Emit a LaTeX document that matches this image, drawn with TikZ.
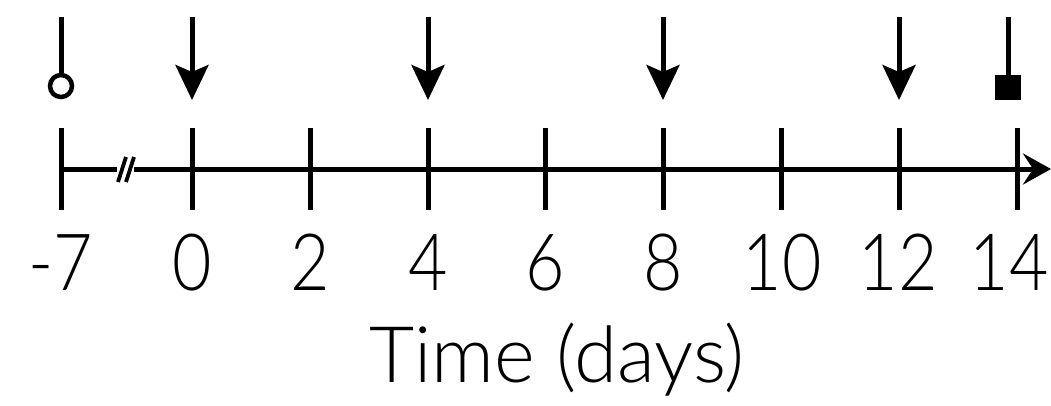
\documentclass[tikz,border=0pt]{standalone}
\usepackage{fontspec}
\setmainfont{Lato}[UprightFont=* Light]
\newfontfamily\digitfont{Lato}[UprightFont=* Light,FakeStretch=0.86]
\usetikzlibrary{arrows.meta}
\begin{document}
\begin{tikzpicture}[x=1pt,y=-1pt,
  axisline/.style={line width=5pt},
  tickline/.style={line width=5pt},
  pin/.style={line width=5pt},
  dosearrow/.style={line width=5pt,-{Stealth[length=35pt,width=33pt,inset=7pt]}},
  label/.style={font=\digitfont\fontsize{79}{80}\selectfont,anchor=base,inner sep=0pt},
  titlelabel/.style={font=\fontsize{78}{80}\selectfont,anchor=base,inner sep=0pt},
  slash/.style={line width=3.8pt}
]
\useasboundingbox (0,0) rectangle (1051,405);
% tick positions
\foreach \n/\x in {m7/61,t0/192,t2/310,t4/428,t6/545,t8/663,t10/781,t12/899,t14/1017}{
  \coordinate (\n top) at (\x,128);
  \coordinate (\n bot) at (\x,210);
  \coordinate (\n ax) at (\x,169);
  \draw[tickline] (\n top) -- (\n bot);
}
% axis with break
\coordinate (brkL) at (117,169);
\coordinate (brkR) at (134,169);
\coordinate (axend) at (1051,169);
\draw[axisline] (m7ax) -- (brkL);
\draw[axisline,-{Stealth[length=28pt,width=31pt,inset=10pt]}] (brkR) -- (axend);
\coordinate (s1a) at (118,182); \coordinate (s1b) at (126,157);
\coordinate (s2a) at (126,182); \coordinate (s2b) at (134,157);
\draw[slash] (s1a) -- (s1b);
\draw[slash] (s2a) -- (s2b);
% circle pin at -7
\coordinate (cpTop) at (61,17);
\node[circle,draw,line width=4.5pt,minimum size=22pt,inner sep=0pt] (circ) at (61,86) {};
\draw[pin] (cpTop) -- (circ.north);
% dose arrows
\foreach \n/\x in {a0/192,a4/428,a8/663,a12/899}{
  \coordinate (\n s) at (\x,17);
  \coordinate (\n e) at (\x,100);
  \draw[dosearrow] (\n s) -- (\n e);
}
% square pin at 14
\coordinate (sqTop) at (1008,17);
\node[fill=black,minimum width=26pt,minimum height=25pt,inner sep=0pt,anchor=north] (sq) at (1008,75) {};
\draw[pin] (sqTop) -- (sq.north);
% labels
\foreach \n/\x/\t in {lm7/61/-7,l0/192/0,l2/310/2,l4/428/4,l6/545/6,l8/663/8,l10/782/10,l12/898/12,l14/1009/14}{
  \node[label] (\n) at (\x,290) {\t};
}
\node[titlelabel] (title) at (557,382) {Time (days)};
\end{tikzpicture}
\end{document}
